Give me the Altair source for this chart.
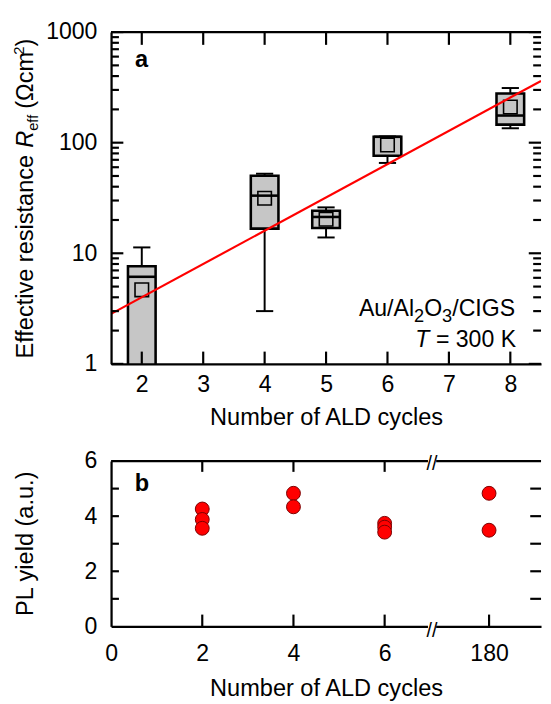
import altair as alt
import pandas as pd

FONT = "Liberation Sans"
FS = 23.5
FT = 24

# ---------------- panel a data ----------------
cycles = [2, 4, 5, 6, 8]
q1 = [0.5, 16.7, 16.9, 76.2, 145.6]
q3 = [7.63, 50.3, 24.2, 113.0, 278.0]
median = [6.13, 33.2, 21.3, 113.0, 176.0]
mean = [4.67, 31.4, 20.3, 95.3, 210.0]
whisk_lo = [0.5, 3.0, 13.9, 65.6, 135.0]
whisk_hi = [11.3, 52.4, 26.0, 113.7, 312.0]

fit_cycles = [1.5, 8.5]
fit_r = [2.83, 362.0]

a_xticks = [2, 3, 4, 5, 6, 7, 8]
a_ymajor = [1, 10, 100, 1000]
a_yminor = [2, 3, 4, 5, 6, 7, 8, 9, 20, 30, 40, 50, 60, 70, 80, 90,
            200, 300, 400, 500, 600, 700, 800, 900]

# ---------------- panel b data ----------------
pl_cycles = [2, 2, 2, 4, 4, 6, 6, 6, 180, 180]
pl_yield = [4.26, 3.88, 3.56, 4.83, 4.34, 3.74, 3.60, 3.42, 4.83, 3.49]
b_pos_180 = 8.29       # axis position used for the 180-cycle sample (after the break)
b_break_at = 7.04      # position of the axis break marks
b_xlabel_pos = [0, 2, 4, 6, b_pos_180]
b_xtick_top = [2, 4, 6]
b_xtick_bottom = [2, 4, 6, b_pos_180]
b_ylabels = [0, 2, 4, 6]
b_yticks = [1, 2, 3, 4, 5]

W, H = 438, 338
HB = 168.4

box_df = pd.DataFrame({"cycles": cycles, "q1": q1, "q3": q3, "median": median,
                       "mean": mean, "wlo": whisk_lo, "whi": whisk_hi})
fit_df = pd.DataFrame({"c": fit_cycles, "r": fit_r})
pl_df = pd.DataFrame({"cycles": pl_cycles, "pl": pl_yield})
pl_df["pos"] = [c if c <= 6 else b_pos_180 for c in pl_cycles]

xs = alt.Scale(domain=[1.5, 8.5], nice=False, zero=False)
ys = alt.Scale(type="log", domain=[1, 1000], nice=False)
xsb = alt.Scale(domain=[0, 9.43], nice=False, zero=False)
ysb = alt.Scale(domain=[0, 6], nice=False, zero=False)

ONE = alt.Data(values=[{}])


def axis_common(**kw):
    d = dict(ticks=False, domain=True, domainColor="black", domainWidth=2.3,
             labelFontSize=FS, labelFont=FONT, labelColor="black",
             labelFlush=False, labelOverlap=False, grid=False,
             titleFont=FONT, titleFontSize=FT, titleFontWeight="normal",
             titleColor="black")
    d.update(kw)
    return alt.Axis(**d)


xa_axis = axis_common(values=a_xticks, format="d", labelPadding=9.5,
                      title="Number of ALD cycles", titlePadding=9.5, zindex=1)
ya_axis = axis_common(values=a_ymajor, format="d", labelPadding=14.4,
                      title=None, zindex=1)
xb_axis = axis_common(values=b_xlabel_pos, labelPadding=16,
                      labelExpr="datum.value > 7 ? '180' : format(datum.value, 'd')",
                      title="Number of ALD cycles", titlePadding=11.5, zindex=0)
yb_axis = axis_common(values=b_ylabels, format="d", labelPadding=14.4,
                      title=None, zindex=0)


def XA(f):
    return alt.X(f, scale=xs, axis=xa_axis)


def YA(f):
    return alt.Y(f, scale=ys, axis=ya_axis)


def XB(f):
    return alt.X(f, scale=xsb, axis=xb_axis)


def YB(f):
    return alt.Y(f, scale=ysb, axis=yb_axis)


def txt(s, x, y, size=FS, dx=0, dy=0, align="left", angle=0, style="normal",
        weight="normal", baseline="alphabetic", color="black"):
    return alt.Chart(ONE).mark_text(
        text=s, align=align, baseline=baseline, angle=angle, dx=dx, dy=dy,
        fontSize=size, fontStyle=style, fontWeight=weight, font=FONT, color=color
    ).encode(x=alt.value(x), y=alt.value(y))


def hrule_ticks(values, ych, x0, x1, sw=2.2):
    df = pd.DataFrame({"v": values})
    return alt.Chart(df).mark_rule(color="black", strokeWidth=sw).encode(
        y=ych("v:Q"), x=alt.value(x0), x2=alt.value(x1))


def vrule_ticks(values, xch, y0, y1, sw=2.2):
    df = pd.DataFrame({"v": values})
    return alt.Chart(df).mark_rule(color="black", strokeWidth=sw).encode(
        x=xch("v:Q"), y=alt.value(y0), y2=alt.value(y1))


def frame_anchor(x, y0, y1):
    # invisible guide that fixes the panel's outer extent (layout helper)
    return alt.Chart(ONE).mark_rule(color="white", strokeOpacity=0, opacity=0).encode(
        x=alt.value(x), x2=alt.value(x), y=alt.value(y0), y2=alt.value(y1))


# ---------------- panel a ----------------
base = alt.Chart(box_df).transform_calculate(
    bl="datum.cycles - 0.225", br="datum.cycles + 0.225",
    cl="datum.cycles - 0.14", cr="datum.cycles + 0.14")

whiskers = base.mark_rule(color="black", strokeWidth=2, clip=True).encode(
    x=XA("cycles:Q"), y=YA("wlo:Q"), y2="whi:Q")
cap_hi = base.mark_rule(color="black", strokeWidth=2, clip=True).encode(
    x=XA("cl:Q"), x2="cr:Q", y=YA("whi:Q"))
cap_lo = base.mark_rule(color="black", strokeWidth=2, clip=True).encode(
    x=XA("cl:Q"), x2="cr:Q", y=YA("wlo:Q"))
boxes = base.mark_rect(fill="#c6c6c6", stroke="black", strokeWidth=2.6,
                       clip=True).encode(
    x=XA("bl:Q"), x2="br:Q", y=YA("q1:Q"), y2="q3:Q")
medians = base.mark_rule(color="black", strokeWidth=2.6, clip=True).encode(
    x=XA("bl:Q"), x2="br:Q", y=YA("median:Q"))
means = base.mark_point(shape="square", size=190, filled=False, color="black",
                        strokeWidth=1.6, opacity=1).encode(
    x=XA("cycles:Q"), y=YA("mean:Q"))
fit = alt.Chart(fit_df).mark_line(color="#ff0000", strokeWidth=2.2, clip=True).encode(
    x=XA("c:Q"), y=YA("r:Q"))

top_border = alt.Chart(ONE).mark_rule(color="black", strokeWidth=2.3).encode(
    x=alt.value(0), x2=alt.value(W), y=alt.value(0))

a_ticks = [
    hrule_ticks(a_ymajor, YA, 0, 12.5),
    hrule_ticks(a_yminor, YA, 0, 8),
    hrule_ticks(a_ymajor, YA, W, W - 12.5),
    hrule_ticks(a_yminor, YA, W, W - 8),
    vrule_ticks(a_xticks, XA, 0, 13),
    vrule_ticks(a_xticks, XA, H, H - 12.5),
]

TX = -79.2   # baseline position of the rotated y titles
ty0 = 332.6
a_title = [
    txt("Effective resistance ", TX, ty0, size=FT, angle=270),
    txt("R", TX, ty0, size=FT, angle=270, dx=214.7, style="italic"),
    txt("eff", TX, ty0, size=15, angle=270, dx=232.0, dy=5),
    txt("(\u03a9cm", TX, ty0, size=FT, angle=270, dx=254.5),
    txt("2", TX, ty0, size=15, angle=270, dx=309.5, dy=-9),
    txt(")", TX, ty0, size=FT, angle=270, dx=318.0),
]

AX = 411.5
a_notes = [
    txt("a", 24.5, 36, size=24, weight="bold"),
    txt("/CIGS", AX, 289.3, align="right"),
    txt("3", AX, 289.3, size=18.5, align="right", dx=-64.0, dy=6.3),
    txt("O", AX, 289.3, align="right", dx=-74.3),
    txt("2", AX, 289.3, size=18.5, align="right", dx=-92.6, dy=6.3),
    txt("Au/Al", AX, 289.3, align="right", dx=-102.9),
    txt("= 300 K", AX + 1, 320.8, align="right"),
    txt("T", AX + 1, 320.8, align="right", dx=-88.2, style="italic"),
]

top = alt.layer(frame_anchor(-104.5, -17.7, H + 80),
                whiskers, cap_hi, cap_lo, boxes, medians, means, fit,
                top_border, *a_ticks, *a_title, *a_notes).properties(width=W, height=H)

# ---------------- panel b ----------------
points = alt.Chart(pl_df).mark_circle(size=200, color="#ff0000", stroke="#7a0000",
                                      strokeWidth=1, opacity=1).encode(
    x=XB("pos:Q"), y=YB("pl:Q"))

top_border_b = alt.Chart(ONE).mark_rule(color="black", strokeWidth=2.3).encode(
    x=alt.value(0), x2=alt.value(W), y=alt.value(0))

b_ticks = [
    hrule_ticks(b_yticks, YB, 0, 8),
    hrule_ticks(b_yticks, YB, W, W - 11),
    vrule_ticks(b_xtick_top, XB, 0, 11),
    vrule_ticks(b_xtick_bottom, XB, HB, HB - 12),
]

brk_df = pd.DataFrame({"p": [b_break_at]})
brk = alt.Chart(brk_df).transform_calculate(pl="datum.p - 0.09", pr="datum.p + 0.09")
gap_top = brk.mark_rule(color="white", strokeWidth=5).encode(
    x=XB("pl:Q"), x2="pr:Q", y=alt.value(0))
gap_bot = brk.mark_rule(color="white", strokeWidth=5).encode(
    x=XB("pl:Q"), x2="pr:Q", y=alt.value(HB))
slash_top = brk.mark_text(text="//", font=FONT, fontSize=20, baseline="middle",
                          align="center", dy=3, color="black").encode(
    x=XB("p:Q"), y=alt.value(0))
slash_bot = brk.mark_text(text="//", font=FONT, fontSize=20, baseline="middle",
                          align="center", dy=5, color="black").encode(
    x=XB("p:Q"), y=alt.value(HB))

b_texts = [
    txt("b", 24, 31, size=24, weight="bold"),
    txt("PL yield (a.u.)", TX, HB / 2, size=FT, angle=270, align="center"),
]

bottom = alt.layer(frame_anchor(-104.5, -18.6, 0),
                   points, top_border_b, *b_ticks, gap_top, gap_bot, slash_top,
                   slash_bot, *b_texts).properties(width=W, height=HB)

chart = alt.vconcat(top, bottom, spacing=0).properties(
    padding={"left": 0, "top": 0, "right": 0, "bottom": 0}
).configure_view(stroke=None)

chart.save("out.html", embed_options={"renderer": "svg", "actions": False})
